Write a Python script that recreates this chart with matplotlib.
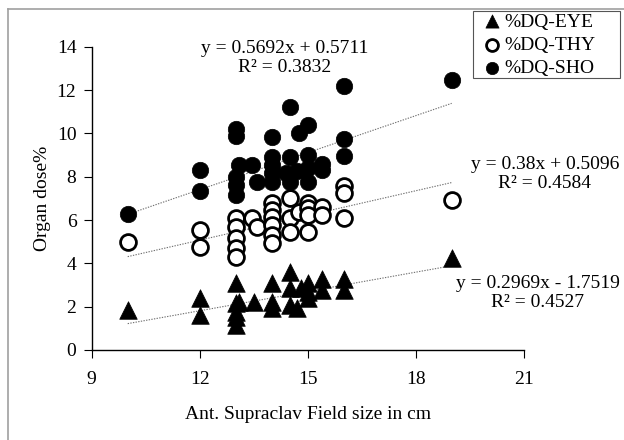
import numpy as np
import matplotlib.pyplot as plt
from matplotlib.lines import Line2D
from matplotlib.patches import Rectangle

# field size (cm) and organ dose (%)
eye_x = [10, 12, 12, 13, 13, 13, 13, 13, 13.1, 13.5, 14, 14, 14, 14.5, 14.5, 14.5,
         14.7, 14.8, 15, 15, 15, 15.4, 15.4, 16, 16, 19]
eye_y = [1.85, 2.38, 1.62, 3.08, 2.15, 1.77, 1.54, 1.15, 2.23, 2.23, 3.08, 2.23, 1.92,
         3.6, 2.85, 2.08, 1.92, 2.85, 3.08, 2.69, 2.4, 3.3, 2.77, 3.3, 2.77, 4.23]

thy_x = [10, 12, 12, 13, 13, 13, 13, 13, 13.45, 13.6, 14, 14, 14, 14, 14, 14,
         14.5, 14.5, 14.5, 14.75, 15, 15, 15, 15, 15.4, 15.4, 16, 16, 16, 19]
thy_y = [5.0, 5.54, 4.74, 6.08, 5.69, 5.15, 4.69, 4.3, 6.08, 5.69, 6.77, 6.46, 6.15,
         5.77, 5.31, 4.92, 7.0, 6.08, 5.46, 6.38, 6.77, 6.54, 6.23, 5.46, 6.62, 6.23,
         7.55, 7.23, 6.08, 6.92]

sho_x = [10, 12, 12, 13, 13, 13, 13, 13, 13.1, 13.45, 13.6, 14, 14, 14, 14, 14,
         14.5, 14.5, 14.5, 14.4, 14.7, 14.75, 15, 15, 15, 15, 15.4, 15.4, 16, 16, 16, 19]
sho_y = [6.3, 8.3, 7.35, 10.2, 9.9, 8.0, 7.6, 7.15, 8.55, 8.55, 7.75, 9.85, 8.9, 8.55,
         8.15, 7.75, 11.2, 8.9, 7.75, 8.15, 8.25, 10.0, 10.4, 9.0, 8.4, 7.75, 8.6, 8.3,
         12.2, 9.75, 8.95, 12.45]

# Excel trendline coefficients shown on the chart
eye_fit = [0.2969, -1.7519, 0.4527]
thy_fit = [0.38, 0.5096, 0.4584]
sho_fit = [0.5692, 0.5711, 0.3832]

x_ticks = [9, 12, 15, 18, 21]
y_ticks = [0, 2, 4, 6, 8, 10, 12, 14]

plt.rcParams['font.family'] = ['Liberation Serif', 'DejaVu Serif']
fs = 14

W, H = 624, 440
fig = plt.figure(figsize=(W / 100, H / 100), dpi=100)
ax = fig.add_axes([91.7 / W, 1 - 350 / H, 432 / W, (350 - 46.7) / H])

ax.scatter(eye_x, eye_y, marker='^', s=160, c='black', edgecolors='black',
           linewidths=0.5, label='%DQ-EYE', zorder=3)
ax.scatter(thy_x, thy_y, marker='o', s=130, c='white', edgecolors='black',
           linewidths=2.0, label='%DQ-THY', zorder=3)
ax.scatter(sho_x, sho_y, marker='o', s=140, c='black', edgecolors='black',
           linewidths=0.5, label='%DQ-SHO', zorder=3)

# trendlines over each series' x range
for xs, fit in [(eye_x, eye_fit), (thy_x, thy_fit), (sho_x, sho_fit)]:
    xx = np.array([min(xs), max(xs)])
    ax.plot(xx, fit[0] * xx + fit[1], ls=(0, (1.2, 1.2)), color='#707070', lw=0.8, zorder=2)

ax.set_xlim(9, 21)
ax.set_ylim(0, 14)
ax.set_xticks(x_ticks)
ax.set_yticks(y_ticks)
for s in ['top', 'right']:
    ax.spines[s].set_visible(False)
ax.spines['left'].set_linewidth(1.0)
ax.spines['bottom'].set_linewidth(1.0)
ax.tick_params(direction='out', length=6, width=0.8, labelsize=fs)
ax.tick_params(axis='x', pad=9)
ax.tick_params(axis='y', pad=5)
ax.set_xlabel('Ant. Supraclav Field size in cm', fontsize=fs, labelpad=13)
ax.set_ylabel('Organ dose%', fontsize=fs, labelpad=4)

def eq_text(fit):
    sign = '+' if fit[1] >= 0 else '-'
    return f'y = {fit[0]:g}x {sign} {abs(fit[1]):g}\nR² = {fit[2]:.4f}'

fig.text(285 / W, 1 - 58 / H, eq_text(sho_fit), ha='center', va='center',
         fontsize=fs, linespacing=1.1)
fig.text(545 / W, 1 - 174 / H, eq_text(thy_fit), ha='center', va='center',
         fontsize=fs, linespacing=1.1)
fig.text(538 / W, 1 - 293 / H, eq_text(eye_fit), ha='center', va='center',
         fontsize=fs, linespacing=1.1)

# legend box drawn separately so its size matches the original
fig.add_artist(Rectangle((473 / W, 1 - 78 / H), 147 / W, 67 / H, fill=False,
                         edgecolor='#555555', lw=0.8, transform=fig.transFigure))
leg = ax.legend(loc='upper left', bbox_to_anchor=(478 / W, 1 - 9 / H),
                bbox_transform=fig.transFigure, borderaxespad=0, fontsize=fs,
                markerscale=0.75, handlelength=1.0, handletextpad=0.15,
                labelspacing=0.3, borderpad=0.2, frameon=False)

# outer chart-area border (cut off at right and bottom)
fig.add_artist(Line2D([7.5 / W, 7.5 / W], [0, 1 - 9 / H], color='#a0a0a0', lw=1.2,
                      transform=fig.transFigure))
fig.add_artist(Line2D([7.5 / W, 1], [1 - 9 / H, 1 - 9 / H], color='#a0a0a0', lw=1.2,
                      transform=fig.transFigure))

fig.savefig('out.png', dpi=100)
